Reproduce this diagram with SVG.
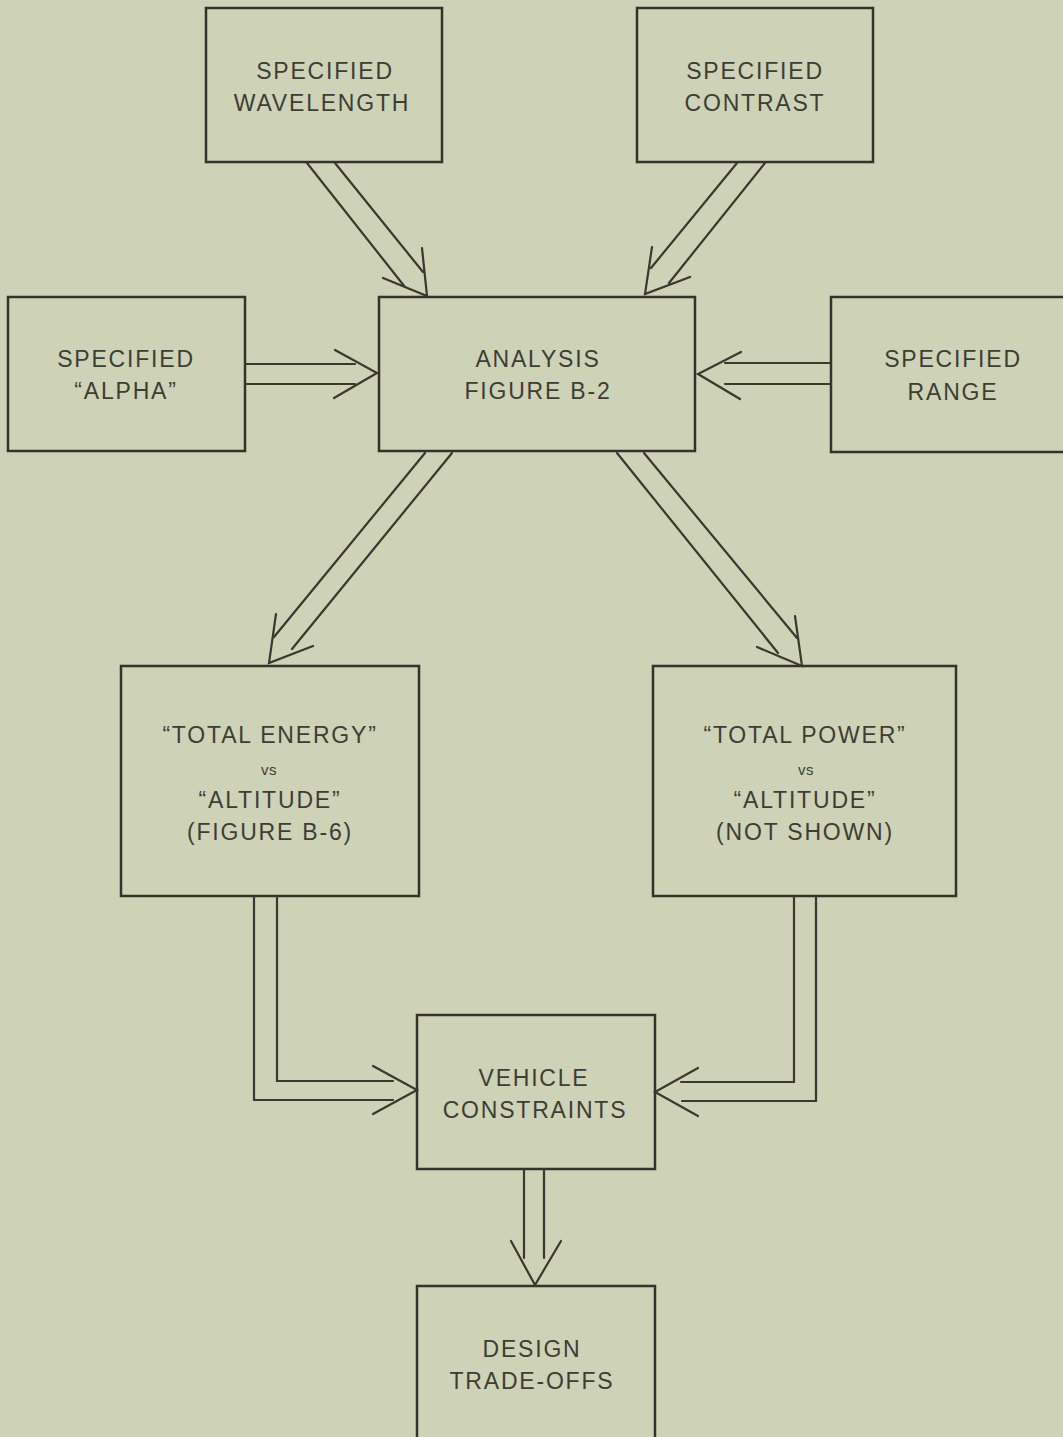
<svg xmlns="http://www.w3.org/2000/svg" width="1063" height="1437" viewBox="0 0 1063 1437">
  <style>
    .box { fill: none; stroke: #34332b; stroke-width: 2.5; }
    .ln { fill: none; stroke: #3a382f; stroke-width: 2.2; stroke-linecap: round; stroke-linejoin: miter; }
    .t { font-family: "Liberation Sans", Arial, sans-serif; font-size: 23px; letter-spacing: 1.8px; fill: #3e3d35; text-anchor: middle; }
    .vs { font-family: "Liberation Sans", Arial, sans-serif; font-size: 15px; letter-spacing: 0.5px; fill: #3e3d35; text-anchor: middle; }
  </style>
  <rect width="1063" height="1437" fill="#ced2b7"/>

  <!-- source and result boxes -->
  <g id="wavelength">
    <rect class="box" x="206" y="8" width="236" height="154"/>
    <text class="t" x="325" y="79">SPECIFIED</text>
    <text class="t" x="322" y="111">WAVELENGTH</text>
  </g>
  <g id="contrast">
    <rect class="box" x="637" y="8" width="236" height="154"/>
    <text class="t" x="755" y="79">SPECIFIED</text>
    <text class="t" x="755" y="111">CONTRAST</text>
  </g>
  <g id="alpha">
    <rect class="box" x="8" y="297" width="237" height="154"/>
    <text class="t" x="126" y="367">SPECIFIED</text>
    <text class="t" x="126" y="399">“ALPHA”</text>
  </g>
  <g id="analysis">
    <rect class="box" x="379" y="297" width="316" height="154"/>
    <text class="t" x="538" y="367">ANALYSIS</text>
    <text class="t" x="538" y="399">FIGURE B-2</text>
  </g>
  <g id="range">
    <rect class="box" x="831" y="297" width="240" height="155"/>
    <text class="t" x="953" y="367">SPECIFIED</text>
    <text class="t" x="953" y="400">RANGE</text>
  </g>
  <g id="total-energy">
    <rect class="box" x="121" y="666" width="298" height="230"/>
    <text class="t" x="270" y="743">“TOTAL ENERGY”</text>
    <text class="vs" x="269" y="775">vs</text>
    <text class="t" x="270" y="808">“ALTITUDE”</text>
    <text class="t" x="270" y="840">(FIGURE B-6)</text>
  </g>
  <g id="total-power">
    <rect class="box" x="653" y="666" width="303" height="230"/>
    <text class="t" x="805" y="743">“TOTAL POWER”</text>
    <text class="vs" x="806" y="775">vs</text>
    <text class="t" x="805" y="808">“ALTITUDE”</text>
    <text class="t" x="805" y="840">(NOT SHOWN)</text>
  </g>
  <g id="vehicle">
    <rect class="box" x="417" y="1015" width="238" height="154"/>
    <text class="t" x="534" y="1086">VEHICLE</text>
    <text class="t" x="535" y="1118">CONSTRAINTS</text>
  </g>
  <g id="design">
    <rect class="box" x="417" y="1286" width="238" height="160"/>
    <text class="t" x="532" y="1357">DESIGN</text>
    <text class="t" x="532" y="1389">TRADE-OFFS</text>
  </g>

  <!-- double-line arrows: two shafts plus an open V head -->
  <g id="connectors">
    <!-- wavelength to analysis -->
    <path class="ln" d="M307 163 L405 287 M335 163 L423 272 M383 278 L427 296 L422 248"/>
    <!-- contrast to analysis -->
    <path class="ln" d="M737 163 L651 268 M765 163 L669 283 M652 247 L645 294 L690 277"/>
    <!-- alpha to analysis -->
    <path class="ln" d="M245 364 L355 364 M245 384 L355 384 M335 350 L377 373 L334 398"/>
    <!-- range to analysis -->
    <path class="ln" d="M831 363 L725 363 M831 384 L725 384 M741 352 L698 374 L740 399"/>
    <!-- analysis to total energy -->
    <path class="ln" d="M425 453 L274 637 M452 453 L292 649 M276 614 L269 663 L313 646"/>
    <!-- analysis to total power -->
    <path class="ln" d="M617 453 L778 653 M644 453 L797 638 M757 647 L802 666 L795 616"/>
    <!-- total energy to vehicle -->
    <path class="ln" d="M254 896 L254 1100 L393 1100 M277 896 L277 1081 L393 1081 M373 1066 L417 1090 L373 1114"/>
    <!-- total power to vehicle -->
    <path class="ln" d="M794 896 L794 1082 L681 1082 M816 896 L816 1101 L682 1101 M698 1068 L655 1092 L698 1116"/>
    <!-- vehicle to design -->
    <path class="ln" d="M524 1169 L524 1258 M544 1169 L544 1258 M511 1241 L535 1285 L561 1241"/>
  </g>
</svg>
